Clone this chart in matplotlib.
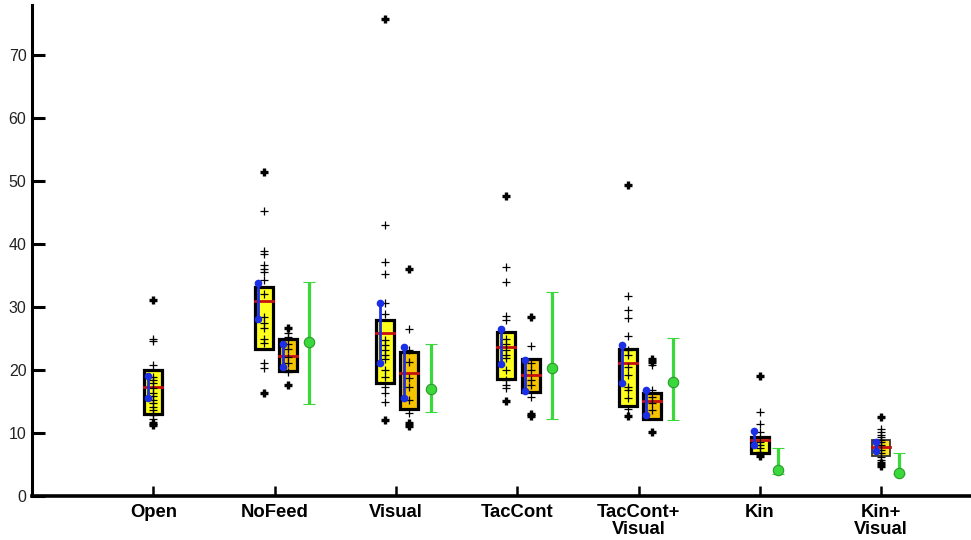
import numpy as np
import matplotlib.pyplot as plt

plt.rcParams['font.family'] = ['Liberation Sans', 'DejaVu Sans']

# categories on the x axis
categories = ['Open', 'NoFeed', 'Visual', 'TacCont', 'TacCont+\nVisual', 'Kin', 'Kin+\nVisual']

# first (yellow) box per category: q1, median, q3 and blue interval
a_q1 = [13.0, 23.3, 18.0, 18.6, 14.3, 6.9, 6.3]
a_med = [17.3, 31.0, 25.9, 23.7, 21.1, 8.9, 7.8]
a_q3 = [20.0, 33.2, 27.9, 26.0, 23.4, 9.3, 8.9]
a_ci_lo = [15.5, 28.1, 21.2, 20.9, 17.9, 8.1, 7.2]
a_ci_hi = [19.0, 33.9, 30.6, 26.5, 24.0, 10.3, 8.5]
a_pts = [
    [24.9, 24.6, 20.8, 18.9, 18.4, 17.9, 17.1, 16.4, 15.9, 15.3, 14.8, 14.2, 13.7, 12.9, 12.3],
    [45.2, 39.0, 38.5, 36.7, 36.1, 35.6, 34.3, 32.1, 28.5, 27.5, 26.7, 25.0, 24.3, 21.1, 20.4],
    [43.1, 37.1, 35.2, 30.7, 28.9, 24.8, 24.0, 23.2, 22.4, 21.7, 20.0, 18.9, 17.3, 16.4, 15.0],
    [36.3, 34.0, 28.6, 27.9, 25.0, 24.2, 23.2, 22.4, 21.9, 20.0, 18.4, 17.6, 17.1],
    [31.7, 29.5, 28.3, 25.4, 23.2, 22.4, 20.5, 19.2, 17.3, 16.8, 15.5, 13.9],
    [13.4, 11.5, 10.2, 8.6, 8.1, 7.6, 7.0],
    [10.6, 10.2, 9.7, 9.3, 8.9, 8.5, 8.1, 7.3, 6.8, 6.2, 5.7],
]
a_out = [[31.2, 11.6, 11.2], [51.4, 16.4], [75.7, 12.0], [47.7, 15.1], [49.4, 12.7],
         [19.1, 6.3], [12.6, 5.2, 4.8]]

# second (orange) box, only for some categories
b_q1 = [None, 19.9, 13.9, 16.5, 12.2, None, None]
b_med = [None, 22.3, 19.6, 19.2, 15.1, None, None]
b_q3 = [None, 25.0, 22.9, 21.8, 16.4, None, None]
b_ci_lo = [None, 20.5, 15.6, 16.7, 12.9, None, None]
b_ci_hi = [None, 24.1, 23.6, 21.6, 16.9, None, None]
b_pts = [[], [25.9, 25.3, 24.2, 23.3, 22.1, 21.1, 19.7],
         [26.5, 23.2, 21.3, 18.7, 17.3, 15.3, 13.2],
         [23.8, 21.1, 20.0, 18.4, 17.6, 15.7],
         [20.8, 16.9, 15.8, 14.7, 13.7], [], []]
b_out = [[], [26.7, 17.6], [36.0, 11.6, 11.1], [28.5, 13.1, 12.7], [21.7, 21.3, 10.2], [], []]

# green mean with error range
g_mean = [None, 24.4, 17.0, 20.4, 18.1, 4.1, 3.7]
g_lo = [None, 14.6, 13.4, 12.2, 12.1, 3.5, 3.5]
g_hi = [None, 34.0, 24.1, 32.4, 25.1, 7.7, 6.8]

yellow = '#FFFF1E'
orange = '#F7C400'
blue = '#1A2FE6'
red = '#C41010'
green = '#3AD83A'

fig = plt.figure(figsize=(9.71, 5.40), dpi=100)
ax = fig.add_axes([32 / 971, 44 / 540, 939 / 971, 491 / 540])

w = 0.15


def draw_box(x, q1, med, q3, lo, hi, pts, out, fill, edge='black', elw=2.3):
    ax.bar(x, q3 - q1, bottom=q1, width=w, color=fill, edgecolor=edge,
           linewidth=elw, zorder=2)
    ax.plot([x - w / 2, x + w / 2], [med, med], color=red, lw=2, zorder=3)
    ax.plot([x] * len(pts), pts, '+', color='black', ms=6, mew=0.9, zorder=4)
    ax.plot([x] * len(out), out, '+', color='black', ms=6, mew=2.4, zorder=4)
    ax.plot([x - 0.045, x - 0.045], [lo, hi], color=blue, lw=2, zorder=5)
    ax.plot([x - 0.045, x - 0.045], [lo, hi], 'o', color=blue, ms=4.5, zorder=5)


for i, cat in enumerate(categories):
    xc = i + 1
    two = b_q1[i] is not None
    xa = xc - 0.09 if two else xc
    if i == 6:
        draw_box(xa, a_q1[i], a_med[i], a_q3[i], a_ci_lo[i], a_ci_hi[i],
                 a_pts[i], a_out[i], '#FCE21A', edge='#333333', elw=1.3)
    else:
        draw_box(xa, a_q1[i], a_med[i], a_q3[i], a_ci_lo[i], a_ci_hi[i],
                 a_pts[i], a_out[i], yellow)
    if two:
        draw_box(xc + 0.11, b_q1[i], b_med[i], b_q3[i], b_ci_lo[i], b_ci_hi[i],
                 b_pts[i], b_out[i], orange)
    if g_mean[i] is not None:
        xg = xc + (0.285 if two else 0.15)
        m = g_mean[i]
        ax.errorbar(xg, m, yerr=[[m - g_lo[i]], [g_hi[i] - m]], fmt='o',
                    color=green, ecolor=green, elinewidth=2.3, capsize=4,
                    capthick=2.3, ms=7.5, mec='#2A9A2A', mew=0.8, zorder=3)

ax.set_xlim(0, 7.74)
ax.set_ylim(0, 78)
ax.set_xticks(range(1, 8))
ax.set_xticklabels(categories, fontsize=13.3, fontweight='bold', linespacing=1.0)
ax.set_yticks(range(0, 80, 10))
ax.tick_params(axis='y', direction='in', length=9, width=2.2, labelsize=11.5,
               pad=4, labelcolor='#222222')
ax.tick_params(axis='x', direction='in', length=7, width=1.8, pad=6)
for s in ['top', 'right']:
    ax.spines[s].set_visible(False)
ax.spines['left'].set_linewidth(2.2)
ax.spines['bottom'].set_linewidth(2.6)

plt.savefig('out.png', dpi=100)
